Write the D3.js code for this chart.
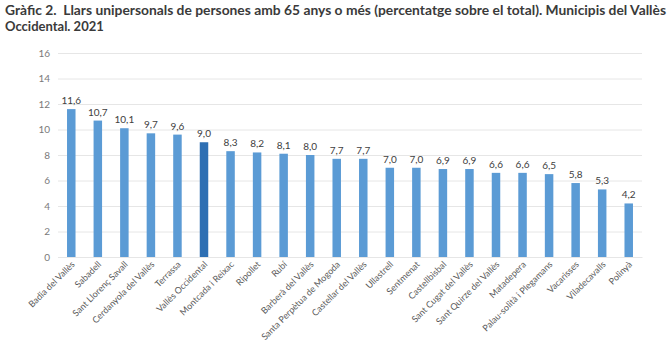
<!DOCTYPE html>
<html><head><meta charset="utf-8">
<script src="https://cdn.jsdelivr.net/npm/d3@7"></script>
<style>body{margin:0;background:#fff}svg{display:block}</style>
</head><body>
<script>
const categories = ["Badia del Vallès","Sabadell","Sant Llorenç Savall","Cerdanyola del Vallès","Terrassa","Vallès Occidental","Montcada i Reixac","Ripollet","Rubí","Barberà del Vallès","Santa Perpètua de Mogoda","Castellar del Vallès","Ullastrell","Sentmenat","Castellbisbal","Sant Cugat del Vallès","Sant Quirze del Vallès","Matadepera","Palau-solità i Plegamans","Vacarisses","Viladecavalls","Polinyà"];
const values = [11.6,10.7,10.1,9.7,9.6,9.0,8.3,8.2,8.1,8.0,7.7,7.7,7.0,7.0,6.9,6.9,6.6,6.6,6.5,5.8,5.3,4.2];
const highlight = "Vallès Occidental";
const yTicks = [0,2,4,6,8,10,12,14,16];
const titleLines = ["Gràfic 2.\u00a0 Llars unipersonals de persones amb 65 anys o més (percentatge sobre el total). Municipis del Vallès","Occidental. 2021"];

const W = 669, H = 348;
const svg = d3.select("body").append("svg").attr("width", W).attr("height", H);
const font = "Lato, 'Open Sans', sans-serif";

const x = d3.scaleBand().domain(categories).range([58, 642]).paddingInner(0.68).paddingOuter(0.34);
const y = d3.scaleLinear().domain([0,16]).range([257, 53]);

// title
svg.append("text").attr("x", 5).attr("y", 15).attr("font-family", font).attr("font-weight", "bold")
  .attr("font-size", 13).attr("fill", "#3a3a3a").attr("textLength", 661).attr("lengthAdjust", "spacingAndGlyphs").text(titleLines[0]);
svg.append("text").attr("x", 5).attr("y", 31).attr("font-family", font).attr("font-weight", "bold")
  .attr("font-size", 13).attr("fill", "#3a3a3a").text(titleLines[1]);

// grid
const yAxis = d3.axisLeft(y).tickValues(yTicks).tickSize(-(642-58)).tickFormat(d3.format("d")).tickPadding(8);
const gy = svg.append("g").attr("transform", "translate(58,0)").call(yAxis);
gy.select(".domain").remove();
gy.selectAll(".tick line").attr("stroke", "#e6e6e6").attr("stroke-width", 1);
gy.selectAll(".tick text").attr("font-family", font).attr("font-size", 10).attr("fill", "#7a7a7a");

// bars
svg.append("g").selectAll("rect").data(categories).join("rect")
  .attr("x", d => x(d)).attr("width", x.bandwidth())
  .attr("y", (d,i) => y(values[i])).attr("height", (d,i) => y(0) - y(values[i]))
  .attr("fill", d => d === highlight ? "#2e6fb3" : "#5b9bd5");

// value labels
svg.append("g").selectAll("text").data(categories).join("text")
  .attr("x", d => x(d) + x.bandwidth()/2).attr("y", (d,i) => y(values[i]) - 5)
  .attr("text-anchor", "middle").attr("font-family", font).attr("font-size", 10).attr("fill", "#404040")
  .text((d,i) => d3.format(".1f")(values[i]).replace(".", ","));

// x axis
const xAxis = d3.axisBottom(x).tickSize(0).tickPadding(0);
const gx = svg.append("g").attr("transform", `translate(0,${y(0)})`).call(xAxis);
gx.select(".domain").attr("stroke", "#e6e6e6");
gx.selectAll(".tick text").attr("font-family", font).attr("font-size", 9).attr("fill", "#595959")
  .attr("text-anchor", "end").attr("dy", 0)
  .attr("transform", "translate(4,8) rotate(-45)");
</script>
</body></html>
